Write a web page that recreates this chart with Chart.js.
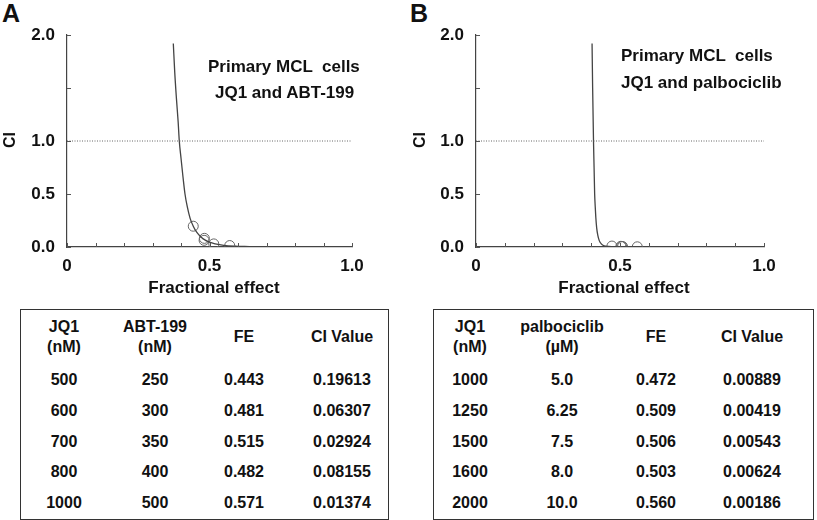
<!DOCTYPE html>
<html lang="en">
<head>
  <meta charset="UTF-8" />
  <title>CI plots</title>
  <script src="https://cdn.jsdelivr.net/npm/chart.js"></script>
  <style>
    body { margin: 0; width: 817px; height: 520px; position: relative; overflow: hidden; background: #fff;
           font-family: 'Liberation Sans', Arial, sans-serif; font-weight: bold; color: #111; }
    .abs { position: absolute; white-space: pre; }
    .panel { font-size: 25px; line-height: 1; }
    .note { font-size: 17px; line-height: 1; }
    .xt { font-size: 17px; line-height: 1; transform: translateX(-50%); }
    .yt { font-size: 16px; line-height: 1; transform: translate(-50%, -50%) rotate(-90deg); }
    .box { position: absolute; border: 1.5px solid #333; box-sizing: border-box; }
    .cell { position: absolute; font-size: 16px; line-height: 20px; text-align: center; transform: translate(-50%, -50%); }
  </style>
</head>
<body>
  <div class="abs panel" style="left:2px; top:1px;">A</div>
  <div class="abs panel" style="left:410px; top:1px;">B</div>

  <div class="abs" style="left:0; top:0; width:400px; height:300px;"><canvas id="chartA"></canvas></div>
  <div class="abs" style="left:409px; top:0; width:408px; height:300px;"><canvas id="chartB"></canvas></div>

  <div class="abs note" style="left:208px; top:58px;">Primary MCL  cells</div>
  <div class="abs note" style="left:215px; top:84px;">JQ1 and ABT-199</div>
  <div class="abs note" style="left:621px; top:47px;">Primary MCL  cells</div>
  <div class="abs note" style="left:621px; top:74px;">JQ1 and palbociclib</div>

  <div class="abs yt" style="left:10px; top:140px;">CI</div>
  <div class="abs yt" style="left:420px; top:140px;">CI</div>
  <div class="abs xt" style="left:214px; top:279px;">Fractional effect</div>
  <div class="abs xt" style="left:624px; top:279px;">Fractional effect</div>

  <div class="box" id="tableA" style="left:20px; top:309px; width:369px; height:211px;"></div>
  <div class="box" id="tableB" style="left:433px; top:309px; width:381px; height:211px;"></div>

  <script>
    // panel A: JQ1 + ABT-199
    const jq1A = ["500", "600", "700", "800", "1000"];
    const abtA = ["250", "300", "350", "400", "500"];
    const feA = [0.443, 0.481, 0.515, 0.482, 0.571];
    const ciA = [0.19613, 0.06307, 0.02924, 0.08155, 0.01374];
    // fitted curve
    const curveFaA = [0.373, 0.378, 0.384, 0.390, 0.394, 0.400, 0.407, 0.414, 0.422, 0.432, 0.443, 0.455, 0.470, 0.485, 0.500, 0.520, 0.550, 0.590, 0.640];
    const curveCiA = [1.92, 1.65, 1.40, 1.18, 1.00, 0.84, 0.66, 0.50, 0.38, 0.27, 0.196, 0.14, 0.095, 0.065, 0.045, 0.03, 0.016, 0.008, 0.004];

    // panel B: JQ1 + palbociclib
    const jq1B = ["1000", "1250", "1500", "1600", "2000"];
    const palbB = ["5.0", "6.25", "7.5", "8.0", "10.0"];
    const feB = [0.472, 0.509, 0.506, 0.503, 0.560];
    const ciB = [0.00889, 0.00419, 0.00543, 0.00624, 0.00186];
    const curveFaB = [0.403, 0.405, 0.408, 0.410, 0.412, 0.414, 0.416, 0.419, 0.423, 0.428, 0.435, 0.445, 0.460, 0.490, 0.560];
    const curveCiB = [1.92, 1.50, 1.00, 0.75, 0.50, 0.38, 0.28, 0.18, 0.11, 0.06, 0.03, 0.012, 0.005, 0.002, 0.001];

    const xTickLabels = { "0": "0", "0.5": "0.5", "1": "1.0" };
    const yTickLabels = { "0": "0.0", "0.5": "0.5", "1": "1.0", "2": "2.0" };

    const colX = { A: [64, 155, 244, 342], B: [470, 562, 656, 752] };
    const rowY = [380, 411, 442, 472, 503];

    const innerTicks = {
      id: "innerTicks",
      afterDraw(chart) {
        const { ctx, scales: { x, y } } = chart;
        ctx.save();
        ctx.strokeStyle = "#555";
        ctx.lineWidth = 1;
        x.ticks.forEach((t) => {
          const px = Math.round(x.getPixelForValue(t.value)) + 0.5;
          ctx.beginPath(); ctx.moveTo(px, x.top); ctx.lineTo(px, x.top - 4); ctx.stroke();
        });
        y.ticks.forEach((t) => {
          const py = Math.round(y.getPixelForValue(t.value)) + 0.5;
          ctx.beginPath(); ctx.moveTo(y.right, py); ctx.lineTo(y.right + 4, py); ctx.stroke();
        });
        ctx.restore();
      },
    };

    function pts(xs, ys) {
      return xs.map((v, i) => ({ x: v, y: ys[i] }));
    }

    function makeChart(id, fe, ci, cFa, cCi, padRight) {
      new Chart(document.getElementById(id), {
        type: "scatter",
        data: {
          datasets: [
            {
              data: [{ x: 0, y: 1 }, { x: 1, y: 1 }],
              showLine: true,
              borderColor: "#666",
              borderWidth: 1,
              borderDash: [1, 1.5],
              pointRadius: 0,
            },
            {
              data: pts(cFa, cCi),
              showLine: true,
              borderColor: "#444",
              borderWidth: 1.3,
              cubicInterpolationMode: "monotone",
              pointRadius: 0,
            },
            {
              data: pts(fe, ci),
              pointRadius: 5,
              pointBorderWidth: 1,
              pointBorderColor: "#666",
              pointBackgroundColor: "rgba(0,0,0,0)",
            },
          ],
        },
        options: {
          responsive: true,
          maintainAspectRatio: false,
          animation: false,
          layout: { padding: { top: 35, right: padRight, left: 0, bottom: 0 } },
          plugins: { legend: { display: false }, tooltip: { enabled: false } },
          scales: {
            x: {
              type: "linear",
              min: 0,
              max: 1,
              grid: { display: false, drawTicks: false },
              border: { display: true, color: "#444", width: 1.2 },
              ticks: {
                stepSize: 0.1,
                padding: 9,
                maxRotation: 0,
                autoSkip: false,
                color: "#111",
                font: { family: "'Liberation Sans', Arial, sans-serif", size: 17, weight: "bold" },
                callback: (v) => xTickLabels[String(Math.round(v * 10) / 10)] || "",
              },
              afterFit: (s) => { s.height = 53; },
            },
            y: {
              type: "linear",
              min: 0,
              max: 2,
              grid: { display: false, drawTicks: false },
              border: { display: true, color: "#444", width: 1.2 },
              ticks: {
                stepSize: 0.5,
                padding: 12,
                autoSkip: false,
                color: "#111",
                font: { family: "'Liberation Sans', Arial, sans-serif", size: 17, weight: "bold" },
                callback: (v) => yTickLabels[String(v)] || "",
              },
              afterFit: (s) => { s.width = 67; },
            },
          },
        },
        plugins: [innerTicks],
      });
    }

    makeChart("chartA", feA, ciA, curveFaA, curveCiA, 48);
    makeChart("chartB", feB, ciB, curveFaB, curveCiB, 53);

    function cell(x, y, html) {
      const d = document.createElement("div");
      d.className = "cell";
      d.style.left = x + "px";
      d.style.top = y + "px";
      d.innerHTML = html;
      document.body.appendChild(d);
    }

    function makeTable(cols, headers, c1, c2, fe, ci) {
      headers.forEach((h, i) => cell(cols[i], 337, h));
      rowY.forEach((y, r) => {
        cell(cols[0], y, c1[r]);
        cell(cols[1], y, c2[r]);
        cell(cols[2], y, fe[r].toFixed(3));
        cell(cols[3], y, ci[r].toFixed(5));
      });
    }

    makeTable(colX.A, ["JQ1<br>(nM)", "ABT-199<br>(nM)", "FE", "CI Value"], jq1A, abtA, feA, ciA);
    makeTable(colX.B, ["JQ1<br>(nM)", "palbociclib<br>(\u00b5M)", "FE", "CI Value"], jq1B, palbB, feB, ciB);
  </script>
</body>
</html>
